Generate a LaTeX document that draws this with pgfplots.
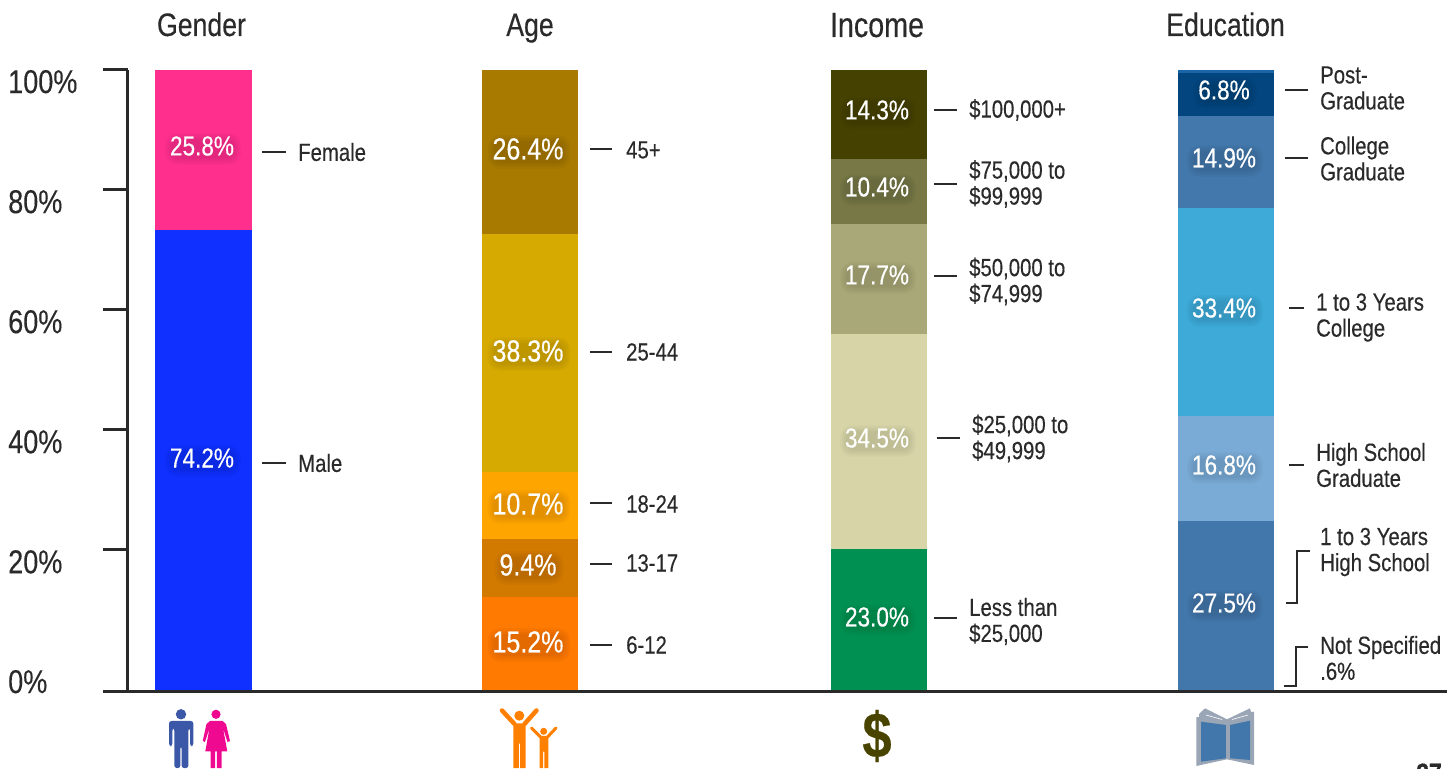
\documentclass[border=0pt]{standalone}
\usepackage{fontspec}
\setmainfont{Liberation Sans}[FakeStretch=0.82,FakeBold=0.3]
\usepackage{pgfplots}
\usepackage{pgfplotstable}
\pgfplotsset{compat=1.18}
\definecolor{ink}{HTML}{2A2A2A}
\definecolor{fem}{HTML}{FF2F8E}
\definecolor{mal}{HTML}{0F30FF}
\definecolor{aA}{HTML}{FF7A00}
\definecolor{aB}{HTML}{D27A00}
\definecolor{aC}{HTML}{FFA500}
\definecolor{aD}{HTML}{D6AA00}
\definecolor{aE}{HTML}{A87A00}
\definecolor{iA}{HTML}{009152}
\definecolor{iB}{HTML}{D7D5A8}
\definecolor{iC}{HTML}{A9A878}
\definecolor{iD}{HTML}{777845}
\definecolor{iE}{HTML}{454100}
\definecolor{eA}{HTML}{4277AB}
\definecolor{eB}{HTML}{7AABD6}
\definecolor{eC}{HTML}{3DAAD8}
\definecolor{eD}{HTML}{4278AB}
\definecolor{eE}{HTML}{03457F}
\definecolor{eF}{HTML}{1A64A8}
\pgfplotstableread{
x      ga   gb   aa   ab   ac   ad   ae   ia   ib   ic   id   ie   ea   eb   ec   ed   ee   ef
203.5  74.2 25.8 0    0    0    0    0    0    0    0    0    0    0    0    0    0    0    0
530    0    0    15.2 9.4  10.7 38.3 26.4 0    0    0    0    0    0    0    0    0    0    0
879    0    0    0    0    0    0    0    23.0 34.5 17.7 10.4 14.3 0    0    0    0    0    0
1226   0    0    0    0    0    0    0    0    0    0    0    0    27.5 16.8 33.4 14.9 6.8  0.6
}\segs
\newcommand{\seg}[2]{\addplot[fill=#2,draw=none] table[x=x,y=#1]{\segs};}
\newcommand{\hd}[4][32.5]{\node[anchor=base,text=ink,font=\fontsize{#1}{#1}\selectfont] at (#2,#3) {#4};}
\newcommand{\val}[4][27.5]{%
  \foreach \ins/\rc in {6/12,4/10,2/9,0/8}{
    \node[anchor=center,fill=black,fill opacity=0.028,rounded corners=\rc pt,inner sep=\ins pt,font=\fontsize{#1}{#1}\selectfont] at (#2+1,#3+3) {\phantom{#4}};}
  \node[anchor=center,text=white,font=\fontsize{#1}{#1}\selectfont] at (#2,#3) {#4};}
\newcommand{\side}[3]{\node[anchor=west,align=left,inner sep=0pt,text=ink,font=\fontsize{24.8}{26}\selectfont] at (#1,#2) {#3};}
\newcommand{\lead}[3]{\draw[color=ink,line width=1.1pt] (#1,#3) -- (#2,#3);}
\begin{document}
\begin{tikzpicture}
\begin{axis}[
  at={(0,-0.7pt)},
  scale only axis, width=1319pt, height=622pt,
  xmin=128, xmax=1447, ymin=0, ymax=100,
  ybar stacked, bar width=96.5pt,
  axis lines=left, axis line style={-,color=ink,line width=3pt},
  axis on top,
  xtick=\empty,
  ytick={22.8,42.1,61.4,80.7,100},
  yticklabels={20\%,40\%,60\%,80\%,100\%},
  extra y ticks={0},
  extra y tick labels={0\%},
  extra y tick style={yticklabel style={yshift=22pt}},
  tick align=outside, major tick length=25pt,
  ytick style={color=ink,line width=3pt},
  yticklabel style={anchor=west,text=ink,inner sep=0pt,
    font=\fontsize{33}{33}\selectfont,xshift=-95pt,yshift=-12pt},
]
\seg{ga}{mal}\seg{gb}{fem}
\seg{aa}{aA}\seg{ab}{aB}\seg{ac}{aC}\seg{ad}{aD}\seg{ae}{aE}
\seg{ia}{iA}\seg{ib}{iB}\seg{ic}{iC}\seg{id}{iD}\seg{ie}{iE}
\seg{ea}{eA}\seg{eb}{eB}\seg{ec}{eC}\seg{ed}{eD}\seg{ee}{eE}\seg{ef}{eF}
\end{axis}
\begin{scope}[shift={(-128pt,691pt)},x=1pt,y=-1pt]
\useasboundingbox (0,0) rectangle (1453,768);
% headers
\hd{201.5}{36}{Gender}
\hd{530}{36}{Age}
\hd[35]{877}{37}{Income}
\hd{1225.5}{36}{Education}
% values
\val{202}{146}{25.8\%}
\val{202}{458}{74.2\%}
\val[30.5]{528}{149}{26.4\%}
\val[30.5]{528}{351}{38.3\%}
\val[30.5]{528}{504}{10.7\%}
\val[30.5]{528}{565}{9.4\%}
\val[30.5]{528}{642}{15.2\%}
\val{877}{110}{14.3\%}
\val{877}{187}{10.4\%}
\val{877}{275}{17.7\%}
\val{877}{438}{34.5\%}
\val{877}{617}{23.0\%}
\val{1224}{90}{6.8\%}
\val{1224}{158}{14.9\%}
\val{1224}{308}{33.4\%}
\val{1224}{465}{16.8\%}
\val{1224}{603}{27.5\%}
% side labels
\lead{262}{286}{152}\side{298}{152}{Female}
\lead{262}{286}{463}\side{298}{463}{Male}
\lead{590}{612}{149}\side{626}{150}{45+}
\lead{590}{612}{352}\side{626}{352}{25-44}
\lead{590}{612}{503}\side{626}{504}{18-24}
\lead{590}{612}{564}\side{626}{563}{13-17}
\lead{590}{612}{645}\side{626}{645}{6-12}
\lead{934}{957}{110}\side{969}{110}{\$100,000+}
\lead{934}{957}{184}\side{969}{184}{\$75,000 to\\\$99,999}
\lead{934}{957}{276}\side{969}{281.5}{\$50,000 to\\\$74,999}
\lead{937}{960}{438}\side{972}{438.5}{\$25,000 to\\\$49,999}
\lead{934}{957}{618}\side{969}{621.5}{Less than\\\$25,000}
\lead{1285}{1308}{90}\side{1320}{88}{Post-\\Graduate}
\lead{1285}{1308}{158}\side{1320}{158.5}{College\\Graduate}
\lead{1289}{1304}{308}\side{1316}{317.5}{1 to 3 Years\\College}
\lead{1289}{1304}{465}\side{1316}{465}{High School\\Graduate}
\side{1320}{552}{1 to 3 Years\\High School}
\side{1320}{658}{Not Specified\\.6\%}
\draw[color=ink,line width=1.1pt] (1286,603)--(1297,603)--(1297,551)--(1310,551);
\draw[color=ink,line width=1.1pt] (1284,686)--(1296,686)--(1296,647)--(1308,647);
% icons: male
\definecolor{icm}{HTML}{3B57A8}
\definecolor{icf}{HTML}{EE0990}
\definecolor{ico}{HTML}{FF8000}
\definecolor{icd}{HTML}{484400}
\definecolor{icg}{HTML}{9AA5B5}
\fill[icm] (181,714.3) circle[radius=5.2];
\fill[icm,rounded corners=2.5] (169,746)--(169,721)--(193.3,721)--(193.3,746)--(190,746)--(190,728)--(188.4,728)--(188.4,768)--(181.6,768)--(181.6,746)--(180.4,746)--(180.4,768)--(174.3,768)--(174.3,728)--(172.4,728)--(172.4,746)--cycle;
% female
\fill[icf] (216,714.3) circle[radius=4.6];
\fill[icf] (210,721)--(222.5,721)--(226,724)--(230,741)--(227.5,742)--(223,728)--(227.3,751.3)--(221.7,751.3)--(221.7,768)--(216.8,768)--(216.8,751.3)--(215.2,751.3)--(215.2,768)--(210.7,768)--(210.7,751.3)--(205.3,751.3)--(209.5,728)--(205,742)--(202.7,741)--(206.5,724)--cycle;
% adult and child
\fill[ico] (519.3,715.7) circle[radius=5];
\draw[ico,line width=4.5pt,line cap=round] (502,710.5)--(514.5,724);
\draw[ico,line width=4.5pt,line cap=round] (536.5,710.5)--(524.5,724);
\fill[ico] (513.3,723.5)--(525.7,723.5)--(525.7,768)--(520,768)--(520,743.5)--(518.8,743.5)--(518.8,768)--(513.3,768)--cycle;
\fill[ico] (543.7,731.3) circle[radius=3.5];
\draw[ico,line width=3pt,line cap=round] (531.5,728)--(540.5,737);
\draw[ico,line width=3pt,line cap=round] (556,728)--(547.5,737);
\fill[ico] (539.7,736)--(548.3,736)--(548.3,768)--(544.3,768)--(544.3,751.7)--(543.2,751.7)--(543.2,768)--(539.7,768)--cycle;
% dollar
\node[anchor=center,text=icd,inner sep=0pt,font=\fontsize{64}{64}\bfseries\selectfont] at (877,736) {\$};
% book
\fill[icg] (1196.3,717.3)--(1199,717)--(1199,714)--(1205,708.3)--(1227,719.3)--(1250,708.3)--(1251,712)--(1254,711.7)--(1254,765)--(1227,759.3)--(1196.3,766)--cycle;
\fill[eA] (1201,721.7)--(1225.8,725)--(1225.8,758.3)--(1201,761.7)--cycle;
\fill[eA] (1230,725)--(1250,720.7)--(1250,760)--(1230,758.3)--cycle;
\draw[white,line width=0.6pt] (1206,715)--(1222,719.5) (1232,719.5)--(1248,715);
% page number
\node[anchor=base west,inner sep=0pt,text=ink,font=\fontsize{28}{28}\bfseries\selectfont] at (1416,783) {27};
\end{scope}
\end{tikzpicture}
\end{document}
